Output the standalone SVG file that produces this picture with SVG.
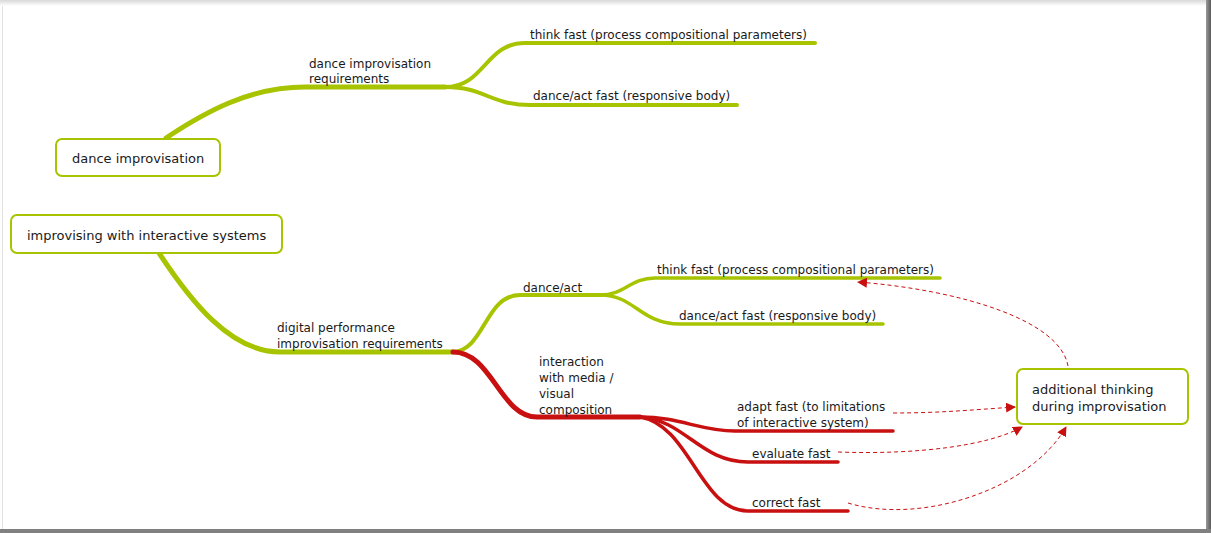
<svg xmlns="http://www.w3.org/2000/svg" width="1211" height="533" viewBox="0 0 1211 533">
<defs>
<linearGradient id="topShadow" x1="0" y1="0" x2="0" y2="1"><stop offset="0" stop-color="#d8d8d8"/><stop offset="1" stop-color="#ffffff"/></linearGradient>
<linearGradient id="rightShadow" x1="0" y1="0" x2="1" y2="0"><stop offset="0" stop-color="#9a9a9a"/><stop offset="1" stop-color="#5a5a5a"/></linearGradient>
<marker id="arr" viewBox="0 0 10 10" refX="9" refY="5" markerWidth="10" markerHeight="10" markerUnits="userSpaceOnUse" orient="auto"><path d="M0,0 L10,5 L0,10 Z" fill="#c81010"/></marker>
<style>
.node rect{fill:#ffffff;stroke:#a8c400;stroke-width:2}
.node text{font-family:"DejaVu Sans",sans-serif;font-size:13px;fill:#1a1a1a}
.lbl{font-family:"DejaVu Sans",sans-serif;font-size:12px;fill:#1a1a1a}
.g{fill:none;stroke:#a8c400;stroke-linecap:round}
.r{fill:none;stroke:#c81010;stroke-linecap:round}
.d{fill:none;stroke:#c81010;stroke-width:1;stroke-dasharray:4,3}
</style>
</defs>
<rect x="0" y="0" width="1211" height="533" fill="#ffffff"/>
<rect x="0" y="0" width="1211" height="6" fill="url(#topShadow)"/>
<line x1="2.5" y1="6" x2="2.5" y2="530" stroke="#e2e2e2" stroke-width="1"/>
<rect x="1206" y="0" width="5" height="533" fill="url(#rightShadow)"/>
<rect x="0" y="529" width="1211" height="4" fill="#808080"/>

<g id="connectors">
<path class="g" stroke-width="5" d="M166,138 C205,112 250,87 305,87 L445,87"/>
<path class="g" stroke-width="4" d="M445,87 C485,87 485,43 525,43 L815,43"/>
<path class="g" stroke-width="4" d="M445,87 C485,87 490,105 530,105 L737,105"/>
<path class="g" stroke-width="5" d="M159,253 C190,300 230,352 280,352 L453,352"/>
<path class="g" stroke-width="4" d="M453,352 C485,350 485,295 520,295 L600,295"/>
<path class="g" stroke-width="3.5" d="M600,295 C625,295 630,278 655,278 L940,278"/>
<path class="g" stroke-width="3.5" d="M600,295 C635,295 640,324 680,324 L883,324"/>
<path class="r" stroke-width="5" d="M453,352 C492,352 500,417 537,417 L640,417"/>
<path class="r" stroke-width="3.5" d="M640,417 C680,417 700,431 735,431 L893,431"/>
<path class="r" stroke-width="3.5" d="M640,417 C685,420 700,462 748,462 L838,462"/>
<path class="r" stroke-width="3.5" d="M640,417 C690,425 700,511 748,511 L848,511"/>
<path class="d" marker-end="url(#arr)" d="M1068,366 C1060,320 960,290 858,282"/>
<path class="d" marker-end="url(#arr)" d="M893,413 C940,413 970,410 1015,407"/>
<path class="d" marker-end="url(#arr)" d="M838,452 C920,455 990,445 1022,427"/>
<path class="d" marker-end="url(#arr)" d="M848,503 C920,525 1030,490 1066,427"/>
</g>

<g id="labels">
<text class="lbl" x="309" y="68">dance improvisation</text>
<text class="lbl" x="309" y="83">requirements</text>
<text class="lbl" x="530" y="39">think fast (process compositional parameters)</text>
<text class="lbl" x="533" y="100">dance/act fast (responsive body)</text>
<text class="lbl" x="277" y="332">digital performance</text>
<text class="lbl" x="277" y="348">improvisation requirements</text>
<text class="lbl" x="523" y="292">dance/act</text>
<text class="lbl" x="657" y="274">think fast (process compositional parameters)</text>
<text class="lbl" x="679" y="320">dance/act fast (responsive body)</text>
<text class="lbl" x="539" y="366">interaction</text>
<text class="lbl" x="539" y="382">with media /</text>
<text class="lbl" x="539" y="398">visual</text>
<text class="lbl" x="539" y="414">composition</text>
<text class="lbl" x="737" y="411">adapt fast (to limitations</text>
<text class="lbl" x="737" y="427">of interactive system)</text>
<text class="lbl" x="752" y="458">evaluate fast</text>
<text class="lbl" x="752" y="507">correct fast</text>
</g>

<g id="node-dance-improvisation" class="node">
<rect x="56" y="139" width="164" height="37" rx="6"/>
<text x="72" y="163">dance improvisation</text>
</g>
<g id="node-improvising" class="node">
<rect x="11" y="215" width="271" height="38" rx="6"/>
<text x="27" y="240">improvising with interactive systems</text>
</g>
<g id="node-additional-thinking" class="node">
<rect x="1017" y="369" width="171" height="55" rx="6"/>
<text x="1032" y="394">additional thinking</text>
<text x="1032" y="411">during improvisation</text>
</g>
</svg>
